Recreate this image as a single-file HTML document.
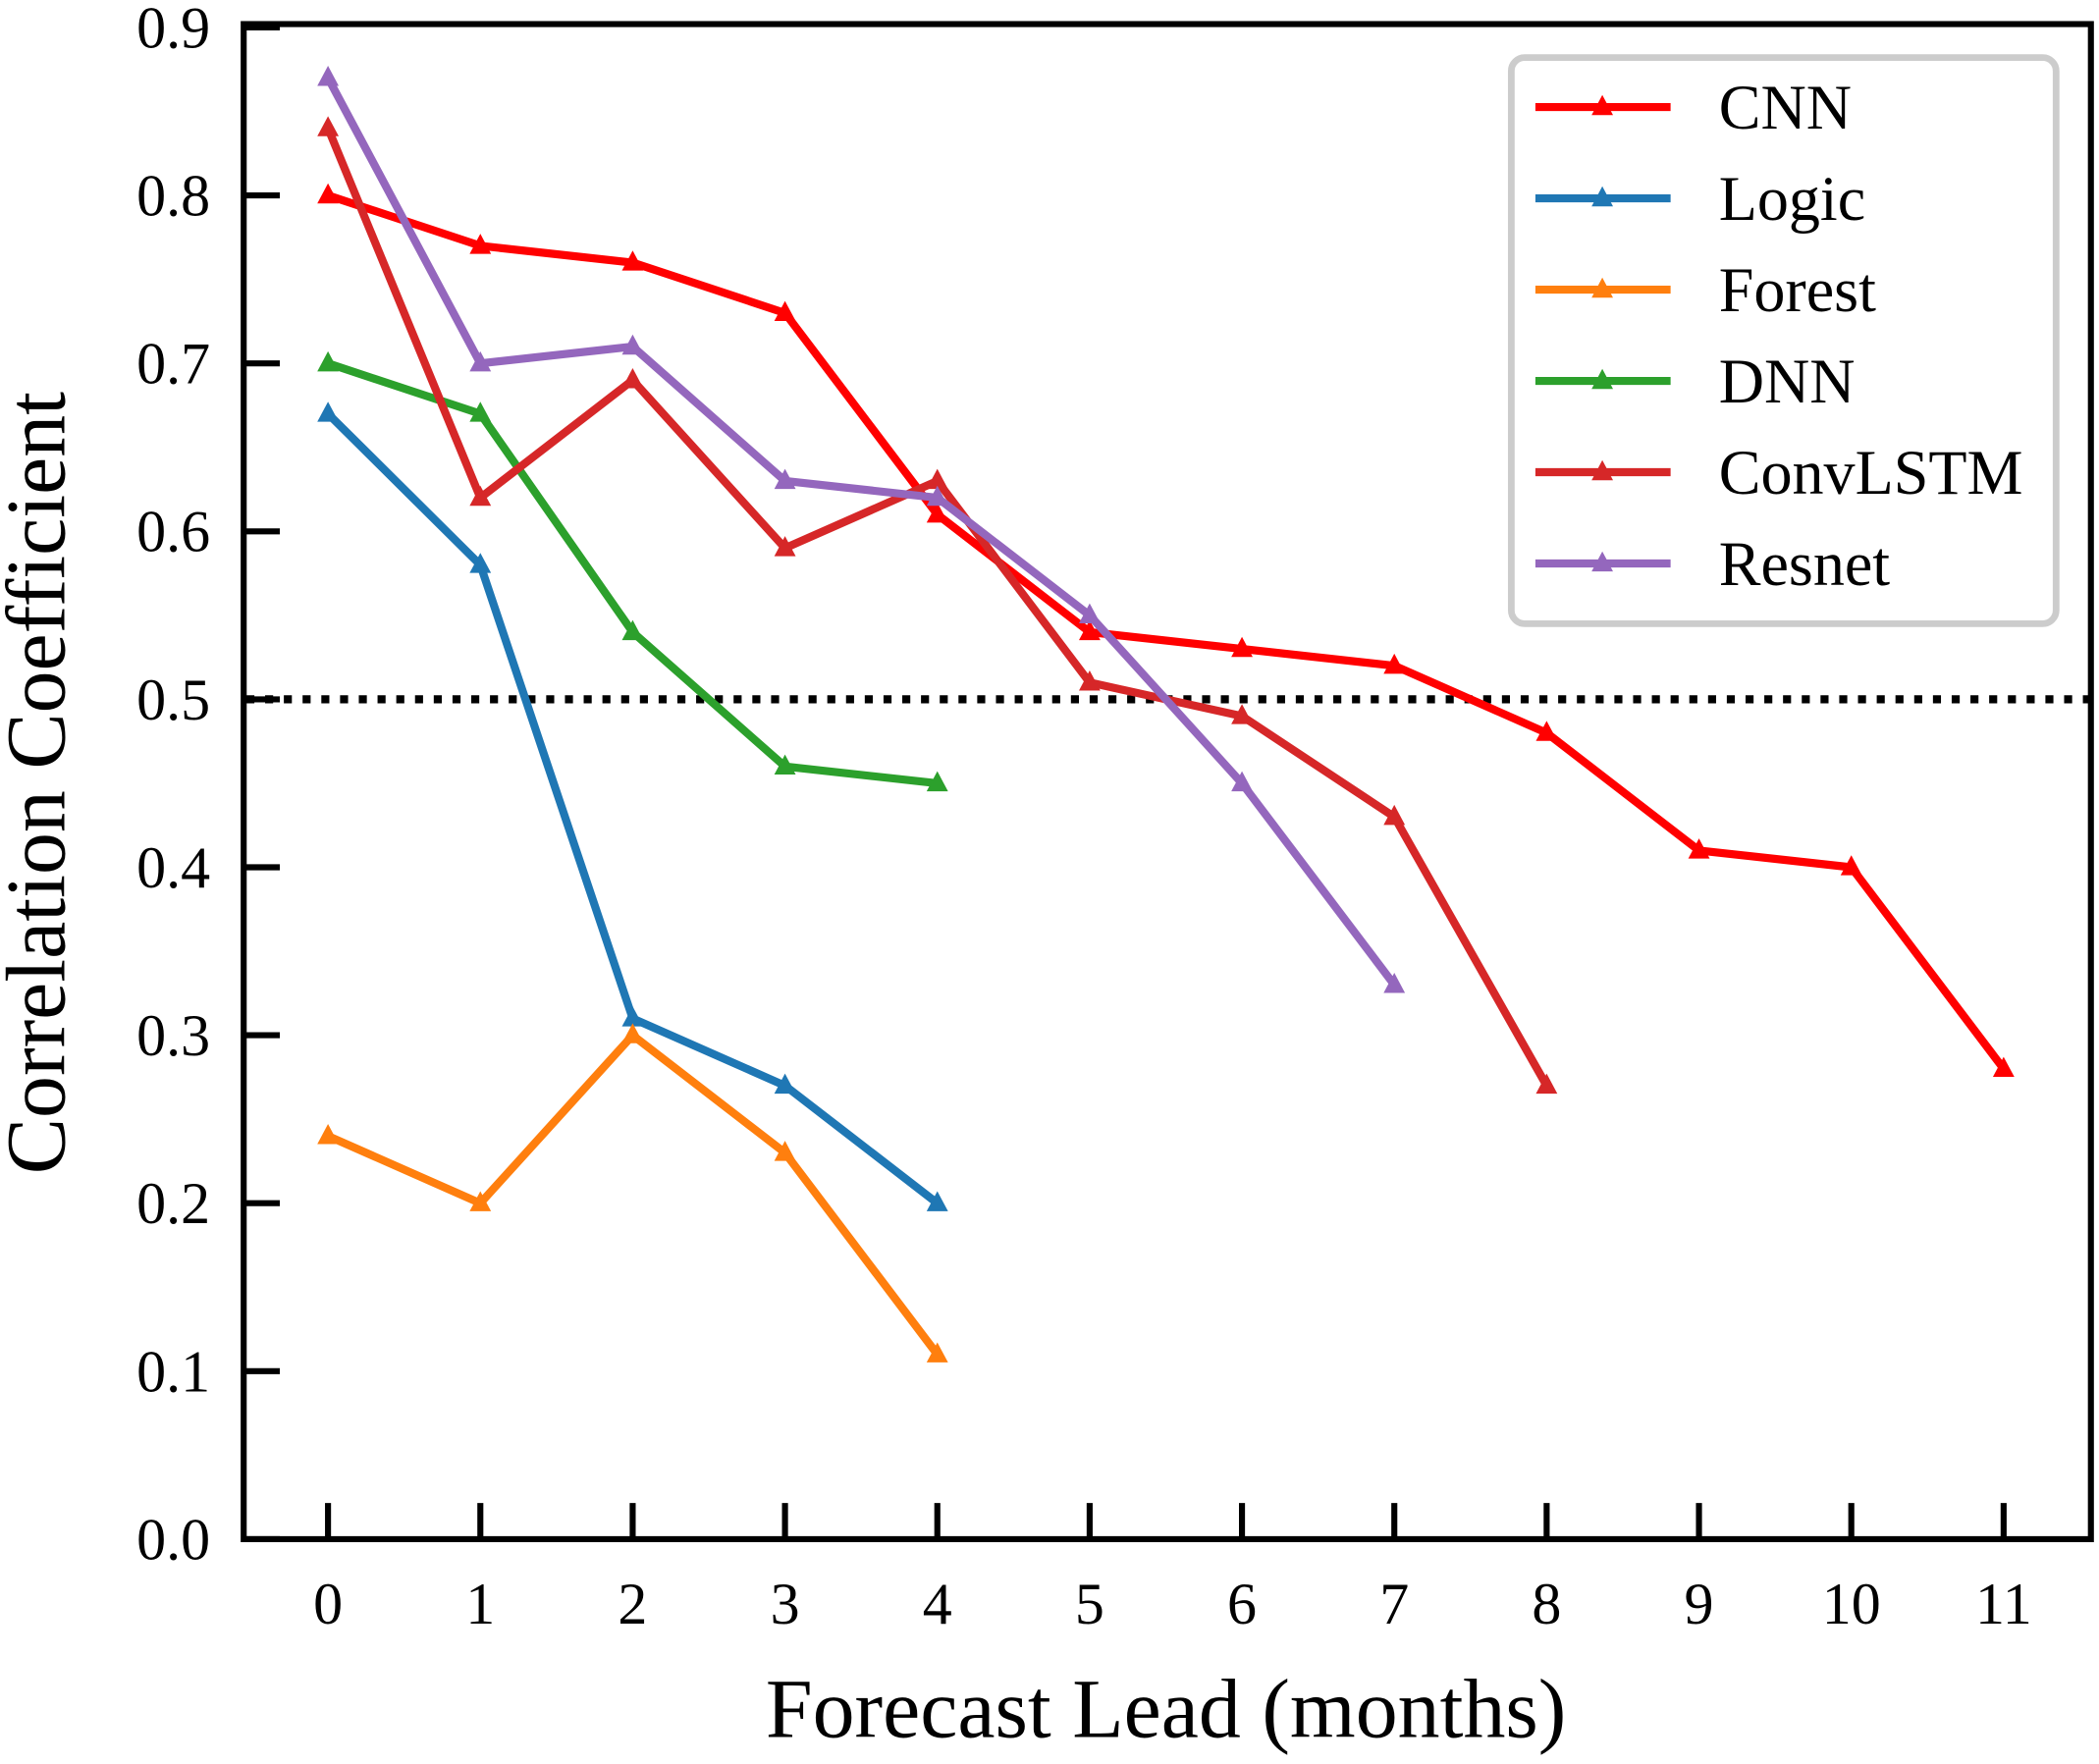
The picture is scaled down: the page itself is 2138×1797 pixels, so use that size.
<!DOCTYPE html>
<html><head><meta charset="utf-8"><style>
html,body{margin:0;padding:0;background:#fff;}
svg{display:block;}
text{font-family:"Liberation Serif",serif;fill:#000;}
</style></head><body>
<svg id="s" width="2138" height="1797" viewBox="0 0 1568 1318" xmlns="http://www.w3.org/2000/svg">
<rect x="0" y="0" width="1568" height="1318" fill="#fff"/>
<g id="g"></g>
</svg>
<script>
const X0=245,XU=113.8,Y0=1150,YU=1255;
const xp=i=>X0+i*XU, yp=v=>Y0-v*YU;
let h='';
h+=`<line x1="184" y1="${yp(0.5)}" x2="1560" y2="${yp(0.5)}" stroke="#000" stroke-width="6" stroke-dasharray="6,8"/>`;
const S=[
["CNN","#ff0000",[0.80,0.77,0.76,0.73,0.61,0.54,0.53,0.52,0.48,0.41,0.40,0.28]],
["Logic","#1f77b4",[0.67,0.58,0.31,0.27,0.20]],
["Forest","#ff7f0e",[0.24,0.20,0.30,0.23,0.11]],
["DNN","#2ca02c",[0.70,0.67,0.54,0.46,0.45]],
["ConvLSTM","#d62728",[0.84,0.62,0.69,0.59,0.63,0.51,0.49,0.43,0.27]],
["Resnet","#9467bd",[0.87,0.70,0.71,0.63,0.62,0.55,0.45,0.33]]];
const tri=(x,y,c)=>`<polygon points="${x},${y-9} ${x-8},${y+6} ${x+8},${y+6}" fill="${c}"/>`;
S.forEach(s=>{
 const pts=s[2].map((v,i)=>xp(i)+','+yp(v)).join(' ');
 h+=`<polyline points="${pts}" fill="none" stroke="${s[1]}" stroke-width="6" stroke-linejoin="round"/>`;
 s[2].forEach((v,i)=>h+=tri(xp(i),yp(v),s[1]));
});
h+=`<rect x="182" y="18" width="1380" height="1132" fill="none" stroke="#000" stroke-width="4.5"/>`;
for(let i=0;i<=9;i++){const y=yp(i/10);
 h+=`<line x1="182" y1="${y}" x2="209" y2="${y}" stroke="#000" stroke-width="4.5"/>`;
 h+=`<text x="157" y="${y+15}" font-size="44" text-anchor="end">${(i/10).toFixed(1)}</text>`;}
for(let i=0;i<=11;i++){const x=xp(i);
 h+=`<line x1="${x}" y1="1150" x2="${x}" y2="1123" stroke="#000" stroke-width="4.5"/>`;
 h+=`<text x="${x}" y="1213" font-size="44" text-anchor="middle">${i}</text>`;}
h+=`<text x="871" y="1298" font-size="63" text-anchor="middle">Forecast Lead (months)</text>`;
h+=`<text transform="translate(48,585) rotate(-90)" font-size="63" text-anchor="middle">Correlation Coefficient</text>`;
h+=`<rect x="1129" y="43" width="407" height="423" rx="10" fill="#fff" fill-opacity="0.85" stroke="#cccccc" stroke-width="5"/>`;
S.forEach((s,k)=>{const y=80+k*68.2;
 h+=`<line x1="1147" y1="${y}" x2="1248" y2="${y}" stroke="${s[1]}" stroke-width="6"/>`;
 h+=tri(1197,y,s[1]);
 h+=`<text x="1284" y="${y+16}" font-size="47">${s[0]}</text>`;});
document.getElementById('g').innerHTML=h;
</script>
</body></html>
